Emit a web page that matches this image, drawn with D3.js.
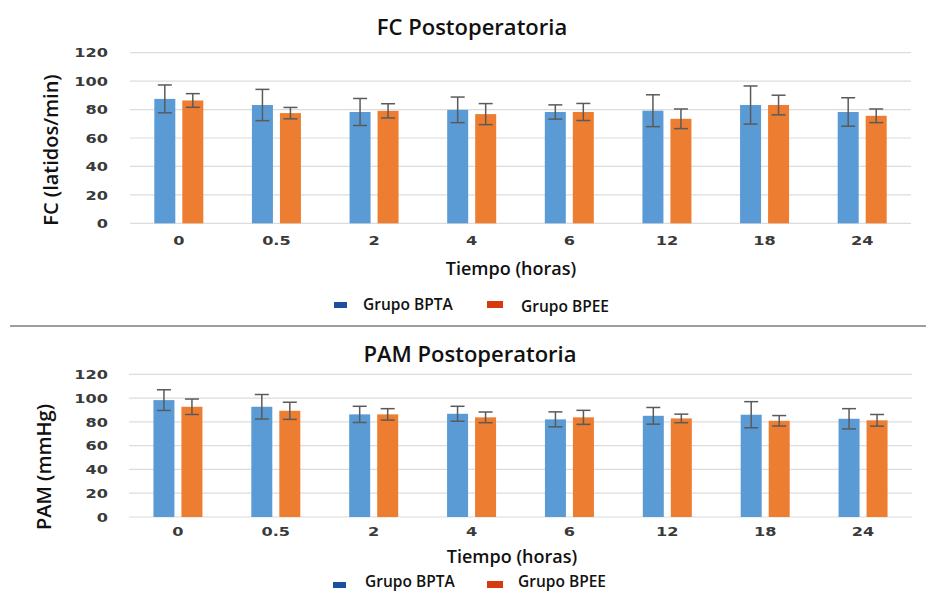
<!DOCTYPE html>
<html>
<head>
<meta charset="utf-8">
<script src="https://cdn.jsdelivr.net/npm/d3@7"></script>
<style>
  html, body { margin: 0; padding: 0; background: #ffffff; }
  svg { display: block; }
</style>
</head>
<body>
<svg id="chart" width="926" height="592"></svg>
<script>
// ---- Data ----
const categories = ["0", "0.5", "2", "4", "6", "12", "18", "24"];
const seriesNames = ["Grupo BPTA", "Grupo BPEE"];
const yTicks = [0, 20, 40, 60, 80, 100, 120];

const fcBPTA   = [87.5, 83.2, 78.3, 79.8, 78.3, 79.2, 83.2, 78.3];
const fcBPTAsd = [9.8, 11.0, 9.5, 9.0, 5.0, 11.2, 13.4, 10.0];
const fcBPEE   = [86.4, 77.5, 79.1, 76.8, 78.3, 73.5, 83.2, 75.6];
const fcBPEEsd = [4.8, 4.0, 5.0, 7.4, 6.0, 6.9, 6.9, 4.8];

const pamBPTA   = [98.3, 92.7, 86.3, 86.8, 82.1, 85.1, 86.0, 82.6];
const pamBPTAsd = [8.7, 10.3, 6.8, 6.3, 6.3, 7.0, 11.0, 8.5];
const pamBPEE   = [92.7, 89.3, 86.3, 83.8, 83.8, 82.9, 80.9, 81.3];
const pamBPEEsd = [6.5, 7.2, 4.8, 4.5, 5.9, 3.6, 4.4, 4.9];

const titles = ["FC Postoperatoria", "PAM Postoperatoria"];
const yTitles = ["FC (latidos/min)", "PAM (mmHg)"];
const xTitle = "Tiempo (horas)";

// ---- Styles ----
const barColors = ["#5b9bd5", "#ed7d31"];
const legendColors = ["#1c4f9c", "#d8380e"];
const textFont = "'Open Sans', 'Noto Sans', sans-serif";
const tickFont = "'DejaVu Sans', sans-serif";

const svg = d3.select("#chart");

function stretch(sel, factor) {
  sel.each(function () {
    const len = this.getComputedTextLength();
    d3.select(this).attr("textLength", len * factor).attr("lengthAdjust", "spacingAndGlyphs");
  });
}

function drawPanel(cfg) {
  const g = svg.append("g");
  const x0 = d3.scaleBand().domain(categories).range([cfg.x0, cfg.x1]).paddingInner(0).paddingOuter(0);
  const x1 = d3.scaleBand().domain(seriesNames).range([-24.5, 24.5]).paddingInner(0.25);
  const y = d3.scaleLinear().domain([0, 120]).range([cfg.yBottom, cfg.yTop]);

  // gridlines
  g.append("g").selectAll("line").data(yTicks).join("line")
    .attr("x1", cfg.x0).attr("x2", cfg.x1)
    .attr("y1", d => y(d)).attr("y2", d => y(d))
    .attr("stroke", "#dcdcdc").attr("stroke-width", 1.2);

  // y tick labels
  const yl = g.append("g").selectAll("text").data(yTicks).join("text")
    .attr("x", 108).attr("y", d => y(d)).attr("dy", "0.36em")
    .attr("text-anchor", "end")
    .attr("font-family", tickFont).attr("font-weight", "bold").attr("font-size", 13)
    .attr("fill", "#3a3a3a")
    .text(d => d);
  stretch(yl, 1.24);

  // x tick labels
  const xl = g.append("g").selectAll("text").data(categories).join("text")
    .attr("x", d => x0(d) + x0.bandwidth() / 2).attr("y", cfg.xTickY)
    .attr("text-anchor", "middle")
    .attr("font-family", tickFont).attr("font-weight", "bold").attr("font-size", 13)
    .attr("fill", "#3a3a3a")
    .text(d => d);
  stretch(xl, 1.24);

  // bars
  const rows = categories.map((c, i) => ({
    cat: c,
    vals: [
      { s: seriesNames[0], v: cfg.a[i], e: cfg.aSd[i], k: 0 },
      { s: seriesNames[1], v: cfg.b[i], e: cfg.bSd[i], k: 1 }
    ]
  }));
  const grp = g.append("g").selectAll("g").data(rows).join("g")
    .attr("transform", d => `translate(${x0(d.cat) + x0.bandwidth() / 2},0)`);
  grp.selectAll("rect").data(d => d.vals).join("rect")
    .attr("x", d => x1(d.s)).attr("width", x1.bandwidth())
    .attr("y", d => y(d.v)).attr("height", d => y(0) - y(d.v))
    .attr("fill", d => barColors[d.k]);

  // error bars
  const eb = grp.selectAll("g.err").data(d => d.vals).join("g").attr("class", "err")
    .attr("stroke", "#5a5a5a").attr("stroke-width", 1.5);
  eb.append("line")
    .attr("x1", d => x1(d.s) + x1.bandwidth() / 2).attr("x2", d => x1(d.s) + x1.bandwidth() / 2)
    .attr("y1", d => y(d.v + d.e)).attr("y2", d => y(d.v - d.e));
  eb.append("line")
    .attr("x1", d => x1(d.s) + x1.bandwidth() / 2 - 7).attr("x2", d => x1(d.s) + x1.bandwidth() / 2 + 7)
    .attr("y1", d => y(d.v + d.e)).attr("y2", d => y(d.v + d.e));
  eb.append("line")
    .attr("x1", d => x1(d.s) + x1.bandwidth() / 2 - 7).attr("x2", d => x1(d.s) + x1.bandwidth() / 2 + 7)
    .attr("y1", d => y(d.v - d.e)).attr("y2", d => y(d.v - d.e));

  // title
  g.append("text").attr("x", cfg.titleX).attr("y", cfg.titleY)
    .attr("text-anchor", "middle").attr("font-family", textFont).attr("font-size", 22)
    .attr("font-weight", 600).attr("fill", "#111")
    .text(cfg.title);

  // y title
  g.append("text")
    .attr("transform", `translate(${cfg.yTitleX},${cfg.yTitleY}) rotate(-90)`)
    .attr("text-anchor", "middle").attr("font-family", textFont).attr("font-size", 20)
    .attr("font-weight", 600).attr("fill", "#111")
    .text(cfg.yTitle);

  // x title
  g.append("text").attr("x", cfg.xTitleX).attr("y", cfg.xTitleY)
    .attr("text-anchor", "middle").attr("font-family", textFont).attr("font-size", 18)
    .attr("font-weight", 600).attr("fill", "#111")
    .text(xTitle);

  // legend
  const lg = g.append("g").selectAll("g").data(seriesNames).join("g");
  lg.append("rect")
    .attr("x", (d, i) => cfg.legRectX[i]).attr("y", (d, i) => cfg.legRectY[i])
    .attr("width", (d, i) => i === 0 ? 13 : 16).attr("height", (d, i) => i === 0 ? 6 : 7)
    .attr("fill", (d, i) => legendColors[i]);
  lg.append("text")
    .attr("x", (d, i) => cfg.legTextX[i]).attr("y", (d, i) => cfg.legTextY[i])
    .attr("font-family", textFont).attr("font-size", 15.5).attr("font-weight", 600)
    .attr("fill", "#111")
    .text(d => d);
}

drawPanel({
  a: fcBPTA, aSd: fcBPTAsd, b: fcBPEE, bSd: fcBPEEsd,
  x0: 130, x1: 911, yBottom: 223.3, yTop: 52.7, xTickY: 245,
  title: titles[0], titleX: 472, titleY: 35,
  yTitle: yTitles[0], yTitleX: 58, yTitleY: 150,
  xTitleX: 511, xTitleY: 275,
  legRectX: [334, 487], legRectY: [302, 301],
  legTextX: [363, 521], legTextY: [310, 312]
});

drawPanel({
  a: pamBPTA, aSd: pamBPTAsd, b: pamBPEE, bSd: pamBPEEsd,
  x0: 129, x1: 912, yBottom: 517, yTop: 374.3, xTickY: 536,
  title: titles[1], titleX: 470, titleY: 362,
  yTitle: yTitles[1], yTitleX: 51, yTitleY: 467,
  xTitleX: 512, xTitleY: 563,
  legRectX: [333, 487], legRectY: [582, 581],
  legTextX: [365, 518], legTextY: [587, 587]
});

// separator between the two panels
svg.append("line").attr("x1", 10).attr("x2", 926).attr("y1", 326).attr("y2", 326)
  .attr("stroke", "#9d9d9d").attr("stroke-width", 2);
</script>
</body>
</html>
